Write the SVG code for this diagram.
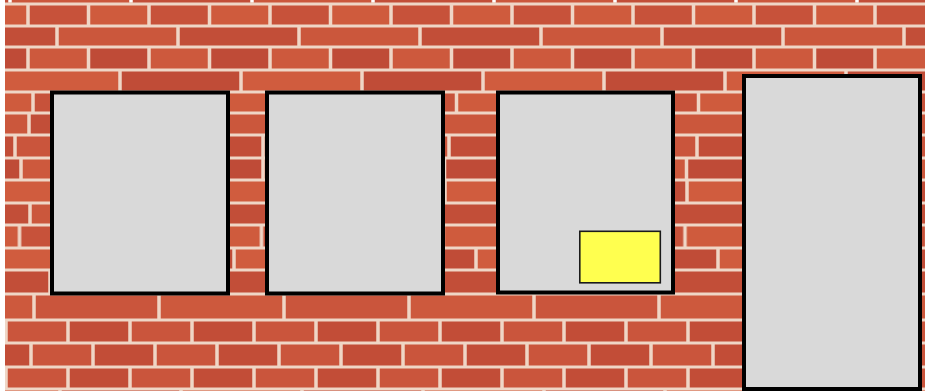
<svg xmlns="http://www.w3.org/2000/svg" width="925" height="391" viewBox="0 0 925 391">
<style>
.win{fill:#d9d9d9;stroke:#000;stroke-width:4}
.sign{fill:#ffff4f;stroke:#1a1a1a;stroke-width:1.6}
</style>
<defs>
<pattern id="s60a" patternUnits="userSpaceOnUse" width="121" height="40">
<rect x="1.75" y="0" width="57" height="40" fill="#c7523a"/>
<rect x="62.25" y="0" width="57" height="40" fill="#cf5b3d"/>
</pattern>
<pattern id="s60b" patternUnits="userSpaceOnUse" width="121" height="40">
<rect x="1.75" y="0" width="57" height="40" fill="#cd593d"/>
<rect x="62.25" y="0" width="57" height="40" fill="#bf4b37"/>
</pattern>
<pattern id="s62" patternUnits="userSpaceOnUse" width="124" height="40">
<rect x="1.75" y="0" width="58.5" height="40" fill="#ca553c"/>
<rect x="63.75" y="0" width="58.5" height="40" fill="#c24d37"/>
</pattern>
<pattern id="l121a" patternUnits="userSpaceOnUse" width="242" height="40">
<rect x="1.75" y="0" width="117.5" height="40" fill="#cb573c"/>
<rect x="122.75" y="0" width="117.5" height="40" fill="#c24e38"/>
</pattern>
<pattern id="l121b" patternUnits="userSpaceOnUse" width="242" height="40">
<rect x="1.75" y="0" width="117.5" height="40" fill="#c04c37"/>
<rect x="122.75" y="0" width="117.5" height="40" fill="#d05c3e"/>
</pattern>
<pattern id="l125" patternUnits="userSpaceOnUse" width="250" height="40">
<rect x="1.75" y="0" width="121.5" height="40" fill="#ca553c"/>
<rect x="126.75" y="0" width="121.5" height="40" fill="#cd593d"/>
</pattern>
</defs>
<rect x="0" y="0" width="925" height="391" fill="#ffffff"/>
<g id="wall">
<rect x="5" y="2" width="920" height="389" fill="#efd6c6"/>
<rect transform="translate(10 0)" x="-5" y="-2" width="920" height="4.5" fill="url(#l121a)"/>
<rect transform="translate(28 0)" x="-23" y="5.5" width="920" height="19" fill="url(#s60a)"/>
<rect transform="translate(57 0)" x="-52" y="27.5" width="920" height="18" fill="url(#l121a)"/>
<rect transform="translate(28 0)" x="-23" y="48.5" width="920" height="20" fill="url(#s60b)"/>
<rect transform="translate(120 0)" x="-115" y="71.5" width="920" height="19" fill="url(#l121b)"/>
<rect transform="translate(33 0)" x="-28" y="93.5" width="920" height="18" fill="url(#s60a)"/>
<rect transform="translate(150 0)" x="-145" y="114.5" width="920" height="19" fill="url(#l121a)"/>
<rect transform="translate(15 0)" x="-10" y="136.5" width="920" height="20" fill="url(#s62)"/>
<rect transform="translate(21 0)" x="-16" y="159.5" width="920" height="19" fill="url(#s60b)"/>
<rect transform="translate(82 0)" x="-77" y="181.5" width="920" height="20" fill="url(#l121b)"/>
<rect transform="translate(30 0)" x="-25" y="204.5" width="920" height="19" fill="url(#l121a)"/>
<rect transform="translate(19.5 0)" x="-14.5" y="226.5" width="920" height="20" fill="url(#s60a)"/>
<rect transform="translate(113 0)" x="-108" y="249.5" width="920" height="19" fill="url(#l121b)"/>
<rect transform="translate(50 0)" x="-45" y="271.5" width="920" height="21" fill="url(#l121a)"/>
<rect transform="translate(34 0)" x="-29" y="295.5" width="920" height="23" fill="url(#l125)"/>
<rect transform="translate(6 0)" x="-1" y="321.5" width="920" height="20" fill="url(#s62)"/>
<rect transform="translate(31 0)" x="-26" y="344.5" width="920" height="21" fill="url(#s62)"/>
<rect transform="translate(6 0)" x="-1" y="368.5" width="920" height="19" fill="url(#s62)"/>
<rect transform="translate(60 0)" x="-55" y="390.5" width="920" height="4" fill="url(#l121b)"/>
</g>
<g id="window1"><rect class="win" x="52" y="92.5" width="176" height="201"/></g>
<g id="window2"><rect class="win" x="267" y="92.5" width="176" height="201"/></g>
<g id="window3"><rect class="win" x="498" y="92.5" width="175" height="200"/></g>
<g id="sign"><rect class="sign" x="579.8" y="231.3" width="80.5" height="51.5"/></g>
<g id="door"><rect class="win" x="744" y="76" width="176" height="313"/></g>
<g id="connectors"/>
</svg>
